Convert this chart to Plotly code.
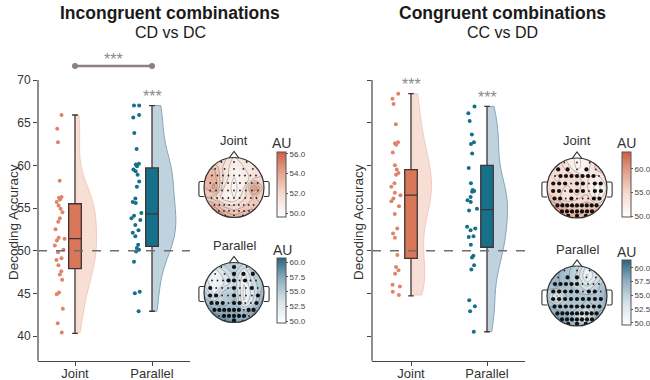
import numpy as np
import plotly.graph_objects as go

W, H = 650, 380

# ------------------------------------------------------------------ data
CATEGORIES = ["Joint", "Parallel"]

INC_JOINT = [65.9, 64.3, 62.7, 58.2, 56.3, 56.2, 56.0, 55.7, 55.3, 54.9, 54.5, 53.8, 53.4,
             52.5, 51.5, 51.4, 51.2, 50.6, 50.1, 49.8, 49.1, 48.9, 48.3, 47.6, 47.2, 46.6,
             45.1, 44.9, 43.2, 41.5, 40.4]
INC_PARALLEL = [67.0, 67.0, 65.9, 65.6, 63.8, 61.9, 60.2, 60.1, 59.9, 59.5, 59.3, 58.9, 58.1,
                57.5, 56.1, 55.7, 55.6, 54.4, 54.1, 53.8, 53.6, 53.0, 52.4, 52.1, 51.7, 50.7,
                50.3, 50.1, 49.9, 48.7, 45.2, 45.0, 42.9]
CON_JOINT = [68.4, 67.8, 67.2, 64.8, 62.7, 62.6, 62.4, 61.5, 60.0, 59.5, 59.1, 58.9, 57.9,
             57.5, 56.8, 56.5, 56.1, 55.8, 55.2, 54.3, 52.6, 52.0, 51.5, 49.5, 48.1, 47.7,
             47.3, 46.0, 45.8, 45.2, 44.8]
CON_PARALLEL = [66.9, 66.1, 65.2, 63.6, 62.7, 62.5, 61.4, 59.7, 57.9, 57.1, 57.0, 56.9, 56.3,
                55.9, 55.7, 54.9, 54.7, 52.8, 52.6, 52.4, 51.7, 51.6, 50.7, 49.4, 49.2, 48.3,
                47.8, 44.2, 43.5, 42.9, 40.5]

# box statistics: q1, median, q3, lower whisker, upper whisker
INC_JOINT_BOX = [47.9, 51.4, 55.5, 40.3, 65.9]
INC_PARALLEL_BOX = [50.5, 54.3, 59.7, 42.9, 67.0]
CON_JOINT_BOX = [49.1, 56.5, 59.5, 44.7, 68.4]
CON_PARALLEL_BOX = [50.4, 54.8, 60.0, 40.5, 66.9]

CHANCE = 50
Y_TICKS = [40, 45, 50, 55, 60, 65, 70]
SIG_TEXT = "***"

# topographies (rows: front/nose -> back, columns: left -> right), AU
TOPO_INC_JOINT = [
    [51.0, 51.5, 52.0, 51.0, 51.5, 51.0, 51.0],
    [53.0, 53.0, 51.5, 50.5, 51.0, 51.5, 51.0],
    [53.5, 53.5, 51.5, 50.3, 50.5, 51.5, 52.0],
    [53.0, 54.0, 51.0, 50.0, 51.0, 54.5, 52.0],
    [52.5, 52.0, 50.5, 50.3, 51.5, 52.5, 52.0],
    [54.5, 54.0, 52.5, 52.0, 52.5, 53.0, 52.5],
    [55.5, 56.0, 54.5, 53.5, 54.0, 53.5, 53.0],
]
TOPO_INC_PARALLEL = [
    [54.0, 54.0, 55.0, 55.0, 55.0, 55.0, 55.0],
    [52.0, 51.0, 53.0, 55.0, 52.0, 55.0, 56.0],
    [53.0, 51.0, 52.0, 54.0, 51.0, 54.0, 56.0],
    [55.0, 51.5, 55.0, 55.0, 50.5, 53.0, 57.0],
    [57.0, 55.0, 55.0, 56.0, 51.0, 54.0, 58.0],
    [59.0, 58.0, 57.0, 57.0, 56.0, 58.0, 59.0],
    [60.5, 60.0, 59.0, 58.0, 58.0, 59.0, 60.0],
]
TOPO_CON_JOINT = [
    [55.0, 55.0, 52.0, 51.0, 52.0, 54.0, 55.0],
    [56.0, 55.0, 54.0, 51.0, 52.0, 55.0, 55.0],
    [55.0, 54.0, 55.0, 55.0, 53.0, 52.0, 54.0],
    [55.0, 55.0, 54.0, 55.0, 53.0, 50.5, 53.0],
    [57.0, 55.0, 53.0, 54.0, 55.0, 51.0, 55.0],
    [60.0, 59.0, 57.0, 56.0, 57.0, 57.0, 57.0],
    [62.5, 61.0, 59.0, 58.0, 58.0, 58.0, 57.0],
]
TOPO_CON_PARALLEL = [
    [57.0, 57.0, 56.0, 55.0, 52.0, 55.0, 56.0],
    [57.0, 57.0, 56.0, 54.0, 50.5, 53.0, 56.0],
    [56.0, 57.0, 56.0, 55.0, 53.0, 55.0, 57.0],
    [55.0, 51.5, 56.0, 56.0, 56.0, 56.0, 57.0],
    [57.0, 56.0, 56.0, 56.0, 55.0, 56.0, 57.0],
    [59.0, 58.0, 57.0, 53.5, 51.5, 57.0, 58.0],
    [61.0, 60.0, 58.0, 57.0, 56.0, 58.0, 59.0],
]

# electrode montage rows (front -> back) and significance masks (1 = significant)
ELEC_ROW_Y = [0.85, 0.62, 0.40, 0.15, -0.10, -0.35, -0.58, -0.78, -0.93]
ELEC_ROW_N = [3, 5, 9, 9, 9, 9, 9, 7, 3]
SIG_INC_JOINT = ["000", "00000", "000000000", "000000000", "000000000", "000000000",
                 "000000000", "0000000", "000"]
SIG_INC_PARALLEL = ["010", "00111", "000110100", "100010010", "110010001", "111011001",
                    "111111011", "0111110", "010"]
SIG_CON_JOINT = ["000", "11010", "011111110", "111011011", "110111011", "110100011",
                 "111111111", "1111111", "111"]
SIG_CON_PARALLEL = ["000", "01100", "111110000", "111110110", "111111111", "111111111",
                    "111111111", "1111111", "111"]

# ------------------------------------------------------------------ styling
FONT = "Liberation Sans, Arial, sans-serif"
J_POINT = "#df846a"
J_BOX = "#d9775b"
J_VIO_FILL = "rgba(240,196,180,0.55)"
J_VIO_LINE = "rgba(236,190,172,0.7)"
P_POINT = "#15708a"
P_BOX = "#16708a"
P_VIO_FILL = "rgba(150,180,200,0.6)"
P_VIO_LINE = "#86a6ba"
EDGE = "#3f3434"
TXT = "#333333"
SIG_COL = "#8a8a8a"
RED_SCALE = [[0, "#ffffff"], [0.35, "#f5dcd3"], [0.7, "#e4a08a"], [1, "#cd5f45"]]
BLUE_SCALE = [[0, "#ffffff"], [0.35, "#d5e1e8"], [0.7, "#8aaabd"], [1, "#27667f"]]

Y_RANGE = [37.1, 73.3]
PX_PER_UNIT = 256 / 30.0          # vertical pixels per accuracy unit


def val_px(v):
    return 336 - (v - 40) * PX_PER_UNIT


def fx(x):
    return x / W


def fy(y):
    return 1 - y / H


fig = go.Figure()
shapes = []
annotations = []
layout_axes = {}


def label(x, y, text, size, color=TXT, angle=0):
    annotations.append(dict(x=fx(x), y=fy(y), xref="paper", yref="paper", text=text,
                            xanchor="center", yanchor="middle", textangle=angle,
                            showarrow=False, font=dict(size=size, color=color, family=FONT)))


panels = [
    dict(n="", xdom=(38, 190), zero=75, unit=77, show_labels=True,
         data=(INC_JOINT, INC_PARALLEL), boxes=(INC_JOINT_BOX, INC_PARALLEL_BOX),
         vio_w=(0.56, 0.62), title="Incongruent combinations", sub="CD vs DC", tx=170,
         ylab_x=13, sig=[(1, 68.1)], bracket=True),
    dict(n="2", xdom=(372, 525), zero=411, unit=76, show_labels=False,
         data=(CON_JOINT, CON_PARALLEL), boxes=(CON_JOINT_BOX, CON_PARALLEL_BOX),
         vio_w=(0.54, 0.54), title="Congruent combinations", sub="CC vs DD", tx=502,
         ylab_x=358, sig=[(0, 69.5), (1, 68.0)], bracket=False),
]

for p in panels:
    xa, ya = "x" + p["n"], "y" + p["n"]
    x0r = (p["xdom"][0] - p["zero"]) / p["unit"]
    x1r = (p["xdom"][1] - p["zero"]) / p["unit"]
    ydom = [fy(val_px(Y_RANGE[0])), fy(val_px(Y_RANGE[1]))]
    layout_axes["xaxis" + p["n"]] = dict(
        domain=[fx(p["xdom"][0]), fx(p["xdom"][1])], range=[x0r, x1r], anchor=ya,
        automargin=False, ticklabelstandoff=-3,
        tickvals=[0, 1], ticktext=CATEGORIES, ticks="outside", ticklen=4, tickwidth=1,
        tickcolor="#444", showline=True, linecolor="#444", linewidth=1.2,
        showgrid=False, zeroline=False, tickfont=dict(size=13, color=TXT, family=FONT))
    layout_axes["yaxis" + p["n"]] = dict(
        domain=ydom, range=Y_RANGE, anchor=xa, tickvals=Y_TICKS, ticks="outside",
        automargin=False,
        ticklen=4, tickwidth=1, tickcolor="#444", showticklabels=p["show_labels"],
        showline=False, showgrid=False, zeroline=False,
        tickfont=dict(size=12, color=TXT, family=FONT))
    # left spine (trimmed at 70)
    shapes.append(dict(type="line", xref="paper", yref="paper",
                       x0=fx(p["xdom"][0]), x1=fx(p["xdom"][0]),
                       y0=fy(val_px(Y_RANGE[0])), y1=fy(val_px(max(Y_TICKS))),
                       line=dict(color="#444", width=1.2)))
    # chance line
    shapes.append(dict(type="line", xref=xa, yref=ya, x0=x0r, x1=x1r, y0=CHANCE, y1=CHANCE,
                       line=dict(color="#6e6e6e", width=1.5, dash="dash"), layer="above"))

    cols = [(J_POINT, J_BOX, J_VIO_FILL, J_VIO_LINE), (P_POINT, P_BOX, P_VIO_FILL, P_VIO_LINE)]
    for i in range(2):
        vals = p["data"][i]
        bx = p["boxes"][i]
        pc, bc, vf, vl = cols[i]
        fig.add_trace(go.Violin(
            x=[i] * len(vals), y=vals, side="positive", width=p["vio_w"][i],
            bandwidth=2.6,
            points=False, box_visible=False, meanline_visible=False, spanmode="hard",
            fillcolor=vf, line=dict(color=vl, width=1), xaxis=xa, yaxis=ya,
            showlegend=False, hoverinfo="skip"))
        fig.add_trace(go.Box(
            x=[i] * len(vals), y=vals, boxpoints="all", jitter=0.75, pointpos=-1.95,
            width=0.2, fillcolor="rgba(0,0,0,0)", line=dict(color="rgba(0,0,0,0)", width=0),
            marker=dict(color=pc, size=4), xaxis=xa, yaxis=ya, showlegend=False))
        fig.add_trace(go.Box(
            x=[i], q1=[bx[0]], median=[bx[1]], q3=[bx[2]], lowerfence=[bx[3]],
            upperfence=[bx[4]], width=0.165, whiskerwidth=0.45, fillcolor=bc,
            line=dict(color=EDGE, width=1.3), boxpoints=False, xaxis=xa, yaxis=ya,
            showlegend=False))

    for (cx, cy) in p["sig"]:
        annotations.append(dict(x=cx, y=cy, xref=xa, yref=ya, text=SIG_TEXT, showarrow=False,
                                xanchor="center", yanchor="middle",
                                font=dict(size=16, color=SIG_COL, family=FONT)))
    if p["bracket"]:
        fig.add_trace(go.Scatter(x=[0, 1], y=[71.65, 71.65], mode="lines+markers",
                                 line=dict(color="#8c7f7f", width=2.5),
                                 marker=dict(color="#8c7f7f", size=6),
                                 xaxis=xa, yaxis=ya, showlegend=False, cliponaxis=False))
        annotations.append(dict(x=0.5, y=72.35, xref=xa, yref=ya, text=SIG_TEXT,
                                xanchor="center", yanchor="middle", showarrow=False,
                                font=dict(size=16, color=SIG_COL, family=FONT)))

    label(p["tx"], 13, "<b>" + p["title"] + "</b>", 17.5, "#1a1a1a")
    label(p["tx"], 32, p["sub"], 16, "#1a1a1a")
    label(p["ylab_x"], 222, "Decoding Accuracy", 13.5, TXT, -90)

# ------------------------------------------------------------------ topomaps
GRID = np.linspace(-1, 1, 7)
ex, ey = [], []
for yy, nn in zip(ELEC_ROW_Y, ELEC_ROW_N):
    w = 0.8 * np.sqrt(1 - yy * yy)
    for xx in np.linspace(-w, w, nn):
        ex.append(xx)
        ey.append(yy)
ex, ey = np.array(ex), np.array(ey)

ang = np.linspace(0, 2 * np.pi, 73)
circ = " ".join(("M" if k == 0 else "L") + f" {np.cos(a):.4f},{np.sin(a):.4f}"
                for k, a in enumerate(ang)) + " Z"
mask_path = "M -3,-3 L 3,-3 L 3,3 L -3,3 Z " + circ

S = 30.0  # pixels per head radius
topos = [
    dict(k=3, z=TOPO_INC_JOINT, sig=SIG_INC_JOINT, c=(234, 187.5), scale=RED_SCALE,
         zr=(49.6, 56.2), ticks=[50, 52, 54, 56], cb=(277, 152, 217), title="Joint",
         au=(281, 143), lev=0.7),
    dict(k=4, z=TOPO_INC_PARALLEL, sig=SIG_INC_PARALLEL, c=(234, 292.5), scale=BLUE_SCALE,
         zr=(49.7, 60.7), ticks=[50, 52.5, 55, 57.5, 60], cb=(277, 258, 323), title="Parallel",
         au=(282, 250), lev=1.2),
    dict(k=5, z=TOPO_CON_JOINT, sig=SIG_CON_JOINT, c=(577, 188), scale=RED_SCALE,
         zr=(49.8, 63.6), ticks=[50, 55, 60], cb=(622, 152, 217), title="Joint",
         au=(626, 143), lev=1.5),
    dict(k=6, z=TOPO_CON_PARALLEL, sig=SIG_CON_PARALLEL, c=(577, 296), scale=BLUE_SCALE,
         zr=(49.6, 61.4), ticks=[50, 52.5, 55, 57.5, 60], cb=(622, 260, 325), title="Parallel",
         au=(626, 252), lev=1.2),
]

for t in topos:
    xa, ya = f"x{t['k']}", f"y{t['k']}"
    cx, cy = t["c"]
    xr, yr = [-1.35, 1.35], [-1.2, 1.3]
    layout_axes[f"xaxis{t['k']}"] = dict(domain=[fx(cx + xr[0] * S), fx(cx + xr[1] * S)],
                                         range=xr, anchor=ya, visible=False, automargin=False)
    layout_axes[f"yaxis{t['k']}"] = dict(domain=[fy(cy - yr[0] * S), fy(cy - yr[1] * S)],
                                         range=yr, anchor=xa, visible=False, automargin=False)
    z = np.array(t["z"])[::-1]
    cb_x, cb_top, cb_bot = t["cb"]
    fig.add_trace(go.Heatmap(
        x=GRID, y=GRID, z=z, zsmooth="best", colorscale=t["scale"], zmin=t["zr"][0],
        zmax=t["zr"][1], xaxis=xa, yaxis=ya, hoverinfo="skip",
        colorbar=dict(x=fx(cb_x), xanchor="left", y=fy((cb_top + cb_bot) / 2),
                      yanchor="middle", len=(cb_bot - cb_top) / H, lenmode="fraction",
                      thickness=9, thicknessmode="pixels", xpad=0, ypad=0,
                      outlinewidth=1, outlinecolor="#555", tickvals=t["ticks"],
                      tickformat=".1f", ticks="outside", ticklen=2, tickcolor="#555",
                      tickfont=dict(size=8, color="#444", family=FONT))))
    fig.add_trace(go.Contour(
        x=GRID, y=GRID, z=z, showscale=False, xaxis=xa, yaxis=ya, hoverinfo="skip",
        contours=dict(coloring="none", start=t["zr"][0], end=t["zr"][1], size=t["lev"]),
        line=dict(color="rgba(70,70,70,0.55)", width=0.6, smoothing=1)))
    sig = np.array([int(ch) for row in t["sig"] for ch in row]) == 1
    fig.add_trace(go.Scatter(x=ex[~sig], y=ey[~sig], mode="markers",
                             marker=dict(color="#222", size=1.8), xaxis=xa, yaxis=ya,
                             showlegend=False, hoverinfo="skip"))
    fig.add_trace(go.Scatter(x=ex[sig], y=ey[sig], mode="markers",
                             marker=dict(color="#111", size=4.2), xaxis=xa, yaxis=ya,
                             showlegend=False, hoverinfo="skip"))
    # mask outside the head, outline, nose, ears
    shapes.append(dict(type="path", xref=xa, yref=ya, path=mask_path, fillcolor="white",
                       fillrule="evenodd", line=dict(width=0), layer="above"))
    shapes.append(dict(type="circle", xref=xa, yref=ya, x0=-1, x1=1, y0=-1, y1=1,
                       line=dict(color="#333", width=1.2), layer="above"))
    shapes.append(dict(type="path", xref=xa, yref=ya,
                       path="M -0.16,0.99 L 0,1.2 L 0.16,0.99",
                       line=dict(color="#333", width=1.1), layer="above"))
    for sgn in (-1, 1):
        shapes.append(dict(type="path", xref=xa, yref=ya,
                           path=(f"M {sgn*0.995},0.2 L {sgn*1.12},0.2 Q {sgn*1.17},0.2 {sgn*1.17},0.14 "
                                 f"L {sgn*1.17},-0.24 Q {sgn*1.17},-0.3 {sgn*1.12},-0.3 L {sgn*0.99},-0.3"),
                           line=dict(color="#333", width=1.1), layer="above"))
    label(cx, cy - 47, t["title"], 13)
    label(t["au"][0], t["au"][1], "AU", 14)

fig.update_layout(
    width=W, height=H, margin=dict(l=0, r=0, t=0, b=0, autoexpand=False),
    paper_bgcolor="white", plot_bgcolor="white", showlegend=False,
    boxmode="overlay", violinmode="overlay",
    shapes=shapes, annotations=annotations, font=dict(family=FONT, color=TXT),
    **layout_axes)

# the browser's default 8px body margin would push the 650x380 figure off the page
fig.write_html("out.html", config={"displayModeBar": False},
               post_script="document.body.style.margin='0px';")
